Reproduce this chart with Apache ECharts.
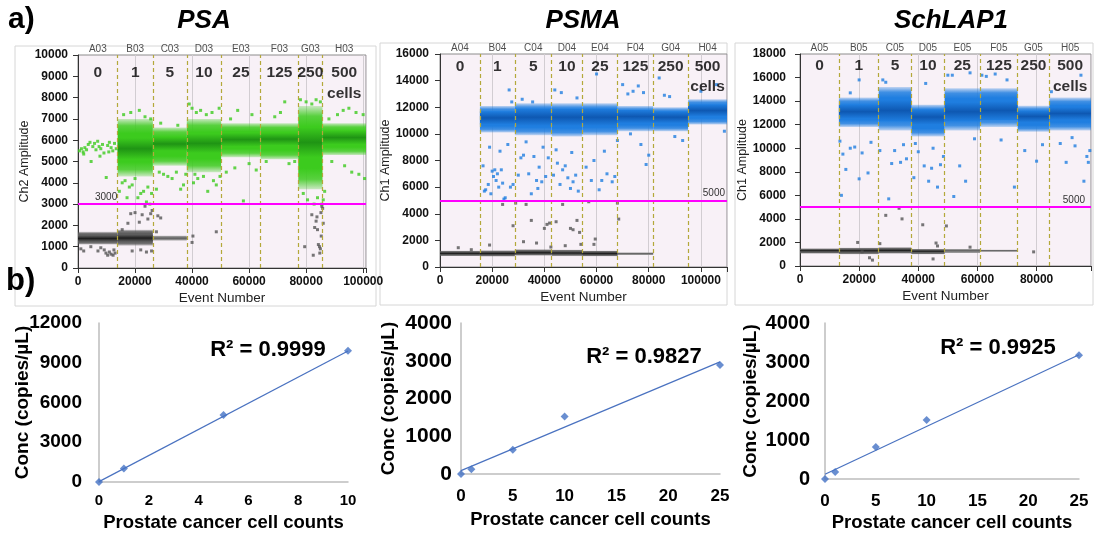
<!DOCTYPE html>
<html><head><meta charset="utf-8">
<script src="https://cdn.jsdelivr.net/npm/echarts@6/dist/echarts.min.js"></script>
<style>html,body{margin:0;padding:0;background:#fff}#c{width:1094px;height:535px}</style>
</head><body><div id="c"></div>
<script>
// ---------------- DATA ----------------
const counts = ['0','1','5','10','25','125','250','500'];
const wells1 = ['A03','B03','C03','D03','E03','F03','G03','H03'];
const wells2 = ['A04','B04','C04','D04','E04','F04','G04','H04'];
const wells3 = ['A05','B05','C05','D05','E05','F05','G05','H05'];
const wellBounds1 = [0, 13900, 26250, 38150, 50200, 64050, 77250, 85750, 101000];
const wellBounds2 = [0, 15300, 28700, 42800, 54500, 68100, 81700, 95100, 110000];
const wellBounds3 = [0, 13150, 26600, 37650, 48900, 60900, 73600, 84300, 98400];
const thresholds = [3000, 5000, 5000];
const yMax = [10000, 16000, 18000];
const yStep = [1000, 2000, 2000];
const xStepTop = 20000;

// dense droplet bands: [xStart, xEnd, low, high, coreLow, coreHigh]
const greenBands1 = [
 [13900,26250,4300,7000,5100,6100],
 [26250,38150,4800,6600,5500,6150],
 [38150,50200,4500,7000,5400,6300],
 [50200,64050,5200,6800,5700,6350],
 [64050,77250,5100,6800,5750,6350],
 [77250,85750,3700,7600,5200,6600],
 [85750,101000,5300,6800,5800,6450]
];
const grayBands1 = [[0,13900,1100,1700,1250,1520],[13900,26250,1050,1800,1250,1560]];
const grayLight1 = [[26250,38150,1280,1520,1340,1460]];
const greenPts1 = [
 [500,5500],[1200,5600],[1800,5450],[2400,5650],[3000,5550],[3600,5800],[4200,5900],[4600,5000],[5200,5700],[5800,5850],[6300,5550],[6900,5950],[7400,5700],[8000,5600],[8600,5800],[9100,5400],[9900,4250],[10400,5750],[11000,5900],[11600,5650],[12200,5500],[12800,5850],[13400,5600],[2000,5350],[7700,5250],[10800,5450],
 [14500,3600],[15500,4000],[16500,4100],[17200,3300],[18000,3800],[19000,3900],[20000,4200],[21000,3300],[22000,3500],[23000,3600],[24000,3100],[24500,3800],[25200,3000],[25800,3500],[16000,7200],[18500,7300],[21500,7400],[23500,7100],[25500,7000],
 [27500,3700],[28500,4500],[30000,4400],[31500,4300],[33000,4200],[34500,4500],[36000,3700],[37000,3900],[37800,4400],[29000,6800],[35000,6700],
 [39000,7700],[40000,7500],[41500,7300],[43000,7400],[45000,7200],[47000,7300],[49500,7500],[40500,4000],[42000,4200],[44000,4300],[45500,3600],[47500,4100],[48500,3900],[49800,4300],[41000,4400],
 [52000,4500],[55000,4700],[58000,3150],[60000,4900],[62500,4600],[56000,7400],[61000,7200],[53500,7000],
 [66000,5000],[69000,7100],[71000,7300],[72500,7800],[74000,4900],[76000,5000],
 [78000,7900],[80000,7800],[82000,7700],[83500,7900],[85000,7800],[86000,3200],[85500,3000],[84000,3300],[79000,3500],[80500,3200],[86500,3600],[82800,3000],
 [88000,7000],[91000,7200],[93000,7400],[95000,7500],[97500,7300],[100000,7200],[89000,5000],[93500,4800],[96000,4500],[98500,4400],[100500,4200]
];
const grayPts1 = [
 [1000,900],[2000,800],[4500,1000],[7000,800],[8000,950],[9200,850],[9800,700],[10400,600],[11000,750],[11600,650],[12300,600],[13000,700],[12600,850],
 [15500,1800],[17500,2100],[18500,2550],[20000,2600],[21500,2150],[22500,2500],[23500,2900],[24500,2300],[25500,2550],[26000,2700],[19000,800],[22000,850],[24000,750],[25800,800],
 [28000,2450],[29000,2350],[27500,1700],[40000,1200],[40300,1500],[48500,1700],
 [79500,1000],[82500,600],[83000,1900],[83500,2200],[84000,1800],[84300,1100],[84700,1000],[85000,900],[85200,2600],[85500,2900],[85800,2800],[83800,2400],[84800,700],[86000,2100],[82000,2500],[85300,1500]
];

const blueBands2 = [
 [15300,28700,10100,12100,10700,11700],
 [28700,42800,9900,12300,10600,11900],
 [42800,54500,9800,12300,10600,11900],
 [54500,68100,9900,12300,10600,11900],
 [68100,81700,10200,12100,10800,11800],
 [81700,95100,10200,12000,10800,11700],
 [95100,110000,10700,12600,11300,12200]
];
const grayBands2 = [[0,15300,820,1220,920,1120],[15300,28700,780,1250,900,1130],[28700,42800,850,1330,950,1200],[42800,54500,820,1300,930,1170],[54500,68100,800,1230,900,1120]];
const grayLight2 = [[68100,81700,900,1100,950,1050]];
const bluePts2 = [
 [16500,7600],[17500,5800],[18500,6200],[19500,5500],[20500,6800],[21000,7300],[22000,7000],[22500,6000],[23500,7300],[24000,6300],[25000,5200],[26000,9200],[27000,6000],[28000,6200],[24500,5100],[21500,6500],[19000,9000],[23000,8700],[26500,13300],[27500,12400],[17000,5700],[20000,7200],
 [30000,6900],[31000,8200],[32000,8400],[34000,7000],[35000,5500],[36000,8300],[37000,6500],[38000,7500],[39000,6400],[40500,6800],[41500,8200],[33000,9400],[35500,12400],[39500,9000],[37500,5900],[31500,12600],
 [44000,13300],[45000,7800],[46000,6200],[47000,7300],[48000,7600],[49000,6700],[50000,5900],[51000,6400],[52000,6900],[53000,5700],[52500,12700],[44500,8800],[50500,8600],[46500,13100],[43500,6900],
 [56000,7500],[58000,6500],[60000,14500],[61000,5800],[62000,6500],[64000,7000],[66000,6400],[67000,6800],[68000,9500],[59000,8000],[63000,8700],
 [70000,13700],[72000,13000],[74000,13200],[76000,13600],[78000,13100],[79000,7700],[80000,8400],[77000,9200],[73000,10000],
 [84000,14200],[86000,12900],[88000,12800],[93000,9500],[90000,9800],
 [100000,13200],[106000,13700],[109000,10200]
];
const grayPts2 = [
 [7000,1450],[12000,1300],[19000,1650],[24000,4700],[28000,3100],[29000,4800],[32000,1900],[33000,4700],[35000,3500],[37000,1800],[40000,2900],[41000,3200],[42000,3300],[42500,1500],[44500,3400],[47000,4700],[48000,1600],[50000,2900],[51000,2800],[52500,3500],[53500,2600],[54000,1700],[57000,4900],[59500,2100],[59000,1700],[68000,4800],[68500,3600]
];

const blueBands3 = [
 [13150,26600,11800,14300,12500,13700],
 [26600,37650,11500,15200,12300,14100],
 [37650,48900,11000,13700,12000,13300],
 [48900,60900,11500,15100,12300,13900],
 [60900,73600,11800,15100,12400,14000],
 [73600,84300,11400,13600,12200,13200],
 [84300,98400,11500,14300,12400,13500]
];
const grayBands3 = [[0,13150,1050,1500,1200,1400],[13150,26600,1000,1550,1180,1420],[26600,37650,1050,1600,1200,1450],[37650,48900,1000,1450,1150,1350]];
const grayLight3 = [[48900,60900,1100,1450,1200,1380],[60900,73600,1200,1400,1250,1350]];
const bluePts3 = [
 [13500,10600],[14500,9500],[15500,8200],[14000,6000],[17000,10000],[18500,10100],[20000,7400],[21000,9600],[23000,7900],[20000,15800],[17000,14700],[24000,10500],
 [27000,9800],[30000,5700],[31000,8700],[32000,9800],[34000,8800],[35000,10300],[28000,15800],[29000,15600],[36000,9100],
 [38500,7500],[40000,9700],[42000,8500],[43500,7200],[44500,8300],[46500,6700],[47500,8600],[48500,9300],[42500,15500],[45000,10000],[39000,10400],
 [50000,16200],[51500,16200],[52000,5900],[54000,8500],[56000,7200],[57500,16400],[59000,10800],
 [61500,16200],[63000,16100],[66000,16300],[70000,15800],[72500,6700],[68000,10700],
 [76000,9800],[80000,8900],[82000,10300],
 [85000,14800],[88000,10400],[90000,8800],[93000,10200],[95000,16200],[96000,7200],[97000,9300],[97500,8800],[98000,9800],[92000,10900]
];
const grayPts3 = [
 [19500,2000],[21000,1200],[23500,700],[24500,500],[27000,1900],[29000,4300],[33500,4900],[34500,4000],[41500,3500],[45000,600],[46000,1950],[46500,1700],[49500,3400],[57500,1600],[79000,1200]
];

// standard curves (bottom row)
const psaX = [0, 1, 5, 10];
const psaY = [0, 1010, 5050, 9900];
const psaTrend = [[0, 30], [10, 9880]];
const psmaX = [0, 1, 5, 10, 25];
const psmaY = [0, 124, 640, 1520, 2890];
const psmaTrend = [[0, 90], [25, 2970]];
const schX = [0, 1, 5, 10, 25];
const schY = [0, 180, 820, 1515, 3170];
const schTrend = [[0, 120], [25, 3185]];
const r2Labels = ['R² = 0.9999', 'R² = 0.9827', 'R² = 0.9925'];
const geneNames = ['PSA', 'PSMA', 'SchLAP1'];

// ---------------- LAYOUT / STYLE ----------------
const FONT = 'Liberation Sans, Arial, Helvetica, sans-serif';
const plain = function(v){ return String(v); };
const topLayout = [
 {left:78, top:55, width:288, height:213, yMargin:10, yGap:47, cntY:0.915, cellsY:0.82, thrPos:'insideStartTop', thrDist:[17,2], yName:'Ch2 Amplitude'},
 {left:440, top:54, width:287, height:213, yMargin:11, yGap:46, cntY:0.94, cellsY:0.845, thrPos:'insideEndTop', thrDist:[2,2], yName:'Ch1 Amplitude'},
 {left:800, top:54, width:292, height:212, yMargin:14, yGap:49, cntY:0.943, cellsY:0.844, thrPos:'insideEndTop', thrDist:[6,2], yName:'Ch1 Amplitude'}
];
const botLayout = [
 {left:99, top:323, width:249, height:159, xMax:10, xInt:2, yMax:12000, yInt:3000, yFont:19, xFont:15, yMargin:17, xMargin:11, yGap:67, xGap:31},
 {left:461, top:323, width:259, height:151, xMax:25, xInt:5, yMax:4000, yInt:1000, yFont:21, xFont:17, yMargin:9, xMargin:14, yGap:63, xGap:36},
 {left:825, top:323, width:254, height:156, xMax:25, xInt:5, yMax:4000, yInt:1000, yFont:20, xFont:17, yMargin:15, xMargin:14, yGap:65, xGap:34}
];
const topData = [
 {bounds:wellBounds1, wells:wells1, main:greenBands1, mainPts:greenPts1, gray:grayBands1, grayLight:grayLight1, grayPts:grayPts1, base:'#3ccb1e', core:'#1f9414'},
 {bounds:wellBounds2, wells:wells2, main:blueBands2, mainPts:bluePts2, gray:grayBands2, grayLight:grayLight2, grayPts:grayPts2, base:'#1f7ee0', core:'#0e58b2'},
 {bounds:wellBounds3, wells:wells3, main:blueBands3, mainPts:bluePts3, gray:grayBands3, grayLight:grayLight3, grayPts:grayPts3, base:'#1f7ee0', core:'#0e58b2'}
];
const botData = [
 {x:psaX, y:psaY, trend:psaTrend},
 {x:psmaX, y:psmaY, trend:psmaTrend},
 {x:schX, y:schY, trend:schTrend}
];

function hexA(hex, a){
  const n = parseInt(hex.slice(1),16);
  return 'rgba(' + ((n>>16)&255) + ',' + ((n>>8)&255) + ',' + (n&255) + ',' + a + ')';
}
function bandSeries(idx, data, base, core, z){
  return {
    type:'custom', xAxisIndex:idx, yAxisIndex:idx, data:data, clip:true, silent:true, z:z,
    encode:{x:[0,1], y:[2,3,4,5]},
    renderItem:function(params, api){
      const tl = api.coord([api.value(0), api.value(3)]);
      const br = api.coord([api.value(1), api.value(2)]);
      const ct = api.coord([api.value(0), api.value(5)]);
      const cb = api.coord([api.value(1), api.value(4)]);
      return {type:'group', children:[
        {type:'rect', shape:{x:tl[0], y:tl[1], width:br[0]-tl[0], height:br[1]-tl[1]},
         style:{fill:{type:'linear', x:0, y:0, x2:0, y2:1, colorStops:[
           {offset:0, color:hexA(base,0.25)}, {offset:0.12, color:hexA(base,0.85)}, {offset:0.25, color:base},
           {offset:0.75, color:base}, {offset:0.88, color:hexA(base,0.85)}, {offset:1, color:hexA(base,0.25)}]}}},
        {type:'rect', shape:{x:ct[0], y:ct[1], width:cb[0]-ct[0], height:cb[1]-ct[1]},
         style:{fill:{type:'linear', x:0, y:0, x2:0, y2:1, colorStops:[
           {offset:0, color:base}, {offset:0.5, color:core}, {offset:1, color:base}]}}}
      ]};
    }
  };
}

const grids = [], xAxes = [], yAxes = [], series = [], graphics = [];

[[15,46,361,260],[380,43,347,262],[735,43,358,262]].forEach(function(b){
  graphics.push({type:'rect', shape:{x:b[0], y:b[1], width:b[2], height:b[3]}, style:{fill:'none', stroke:'#d6d6d6', lineWidth:1}, z:-10});
});

topLayout.forEach(function(L, i){
  const D = topData[i];
  const xmax = D.bounds[D.bounds.length-1];
  grids.push({left:L.left, top:L.top, width:L.width, height:L.height, show:true, backgroundColor:'#f8f1f7', borderColor:'#8c8c8c', borderWidth:1});
  xAxes.push({type:'value', gridIndex:i, min:0, max:xmax, interval:xStepTop,
    axisLine:{show:true, onZero:false, lineStyle:{color:'#333'}}, axisTick:{show:true, length:5, lineStyle:{color:'#333'}},
    axisLabel:{fontFamily:FONT, fontWeight:'bold', fontSize:12, color:'#111', margin:8, hideOverlap:false,
      formatter:function(v){ return v % xStepTop === 0 ? String(v) : ''; }},
    splitLine:{show:true, lineStyle:{color:'#d2cdd2', width:1}},
    name:'Event Number', nameLocation:'middle', nameGap:23,
    nameTextStyle:{fontFamily:FONT, fontSize:13.5, color:'#222'}});
  yAxes.push({type:'value', gridIndex:i, min:0, max:yMax[i], interval:yStep[i],
    axisLine:{show:true, lineStyle:{color:'#333'}}, axisTick:{show:true, length:5, lineStyle:{color:'#333'}},
    axisLabel:{fontFamily:FONT, fontWeight:'bold', fontSize:12, color:'#111', margin:L.yMargin, formatter:plain},
    splitLine:{show:false},
    name:L.yName, nameLocation:'middle', nameGap:L.yGap,
    nameTextStyle:{fontFamily:FONT, fontSize:12.5, color:'#222'}});

  series.push(bandSeries(i, D.gray, '#5c5c5c', '#1e1e1e', 2));
  series.push(bandSeries(i, D.grayLight, '#8a8a8a', '#5a5a5a', 2));
  series.push(bandSeries(i, D.main, D.base, D.core, 2));
  series.push({type:'scatter', xAxisIndex:i, yAxisIndex:i, data:D.grayPts, symbol:'rect', symbolSize:3,
    itemStyle:{color:'#555'}, silent:true, z:3});
  series.push({type:'scatter', xAxisIndex:i, yAxisIndex:i, data:D.mainPts, symbol:'rect', symbolSize:3,
    itemStyle:{color:D.base}, silent:true, z:3,
    markLine:{symbol:'none', silent:true, animation:false, z:6,
      lineStyle:{color:'#ff00ff', width:2, type:'solid'},
      label:{show:true, position:L.thrPos, distance:L.thrDist, formatter:String(thresholds[i]), fontFamily:FONT, fontSize:10, color:'#333'},
      data:[{yAxis:thresholds[i]}]}});
  const centers = D.bounds.slice(0,-1).map(function(b, k){ return (b + D.bounds[k+1]) / 2; });
  series.push({type:'scatter', xAxisIndex:i, yAxisIndex:i, symbolSize:0, silent:true, z:7,
    data:centers.map(function(c){ return [c, yMax[i]]; }),
    label:{show:true, position:'top', distance:1, fontFamily:'Liberation Sans Narrow, ' + FONT, fontSize:10, color:'#222',
      formatter:function(p){ return D.wells[p.dataIndex]; }},
    markLine:{symbol:'none', silent:true, animation:false, z:5,
      lineStyle:{color:'#b4a83a', width:1.2, type:[4,3]}, label:{show:false},
      data:D.bounds.slice(1,-1).map(function(b){ return {xAxis:b}; })}});
  series.push({type:'scatter', xAxisIndex:i, yAxisIndex:i, symbolSize:0, silent:true, z:8,
    data:centers.map(function(c){ return [c, yMax[i]*L.cntY]; }),
    label:{show:true, position:'inside', fontFamily:FONT, fontWeight:'bold', fontSize:15.5, color:'#000',
      formatter:function(p){ return counts[p.dataIndex]; }}});
  series.push({type:'scatter', xAxisIndex:i, yAxisIndex:i, symbolSize:0, silent:true, z:8,
    data:[[centers[centers.length-1], yMax[i]*L.cellsY]],
    label:{show:true, position:'inside', fontFamily:FONT, fontWeight:'bold', fontSize:15.5, color:'#000', formatter:'cells'}});
});

botLayout.forEach(function(L, j){
  const i = j + 3;
  const D = botData[j];
  grids.push({left:L.left, top:L.top, width:L.width, height:L.height});
  xAxes.push({type:'value', gridIndex:i, min:0, max:L.xMax, interval:L.xInt,
    axisLine:{show:true, onZero:false, lineStyle:{color:'#bdbdbd', width:1.5}}, axisTick:{show:false},
    axisLabel:{fontFamily:FONT, fontWeight:'bold', fontSize:L.xFont, color:'#000', margin:L.xMargin, formatter:plain},
    splitLine:{show:false},
    name:'Prostate cancer cell counts', nameLocation:'middle', nameGap:L.xGap,
    nameTextStyle:{fontFamily:FONT, fontWeight:'bold', fontSize:18.5, color:'#000'}});
  yAxes.push({type:'value', gridIndex:i, min:0, max:L.yMax, interval:L.yInt,
    axisLine:{show:true, lineStyle:{color:'#bdbdbd', width:1.5}}, axisTick:{show:false},
    axisLabel:{fontFamily:FONT, fontWeight:'bold', fontSize:L.yFont, color:'#000', margin:L.yMargin, formatter:plain},
    splitLine:{show:false},
    name:'Conc (copies/µL)', nameLocation:'middle', nameGap:L.yGap, nameMoveOverlap:false,
    nameTextStyle:{fontFamily:FONT, fontWeight:'bold', fontSize:19, color:'#000'}});
  series.push({type:'line', xAxisIndex:i, yAxisIndex:i, data:D.trend, symbol:'none', silent:true,
    lineStyle:{color:'#4a72c0', width:1.2}, z:2});
  series.push({type:'scatter', xAxisIndex:i, yAxisIndex:i, data:D.x.map(function(x,k){ return [x, D.y[k]]; }),
    symbol:'diamond', symbolSize:8, itemStyle:{color:'#4472c4'}, z:3});
});

graphics.push({type:'text', x:8, y:5, style:{text:'a)', font:'bold 30px ' + FONT, fill:'#000'}});
graphics.push({type:'text', x:6, y:266, style:{text:'b)', font:'bold 31px ' + FONT, fill:'#000'}, z:20});
[204, 583, 951].forEach(function(cx, k){
  graphics.push({type:'text', x:cx, y:21, style:{text:geneNames[k], font:'italic bold 26px ' + FONT, fill:'#000', align:'center', verticalAlign:'middle'}});
});
[[268,350],[644,357],[998,348]].forEach(function(p, k){
  graphics.push({type:'text', x:p[0], y:p[1], style:{text:r2Labels[k], font:'bold 22px ' + FONT, fill:'#000', align:'center', verticalAlign:'middle'}});
});

const chart = echarts.init(document.getElementById('c'), null, {renderer:'canvas'});
chart.setOption({
  animation:false,
  backgroundColor:'#ffffff',
  grid:grids, xAxis:xAxes, yAxis:yAxes, series:series, graphic:graphics
});
</script></body></html>
